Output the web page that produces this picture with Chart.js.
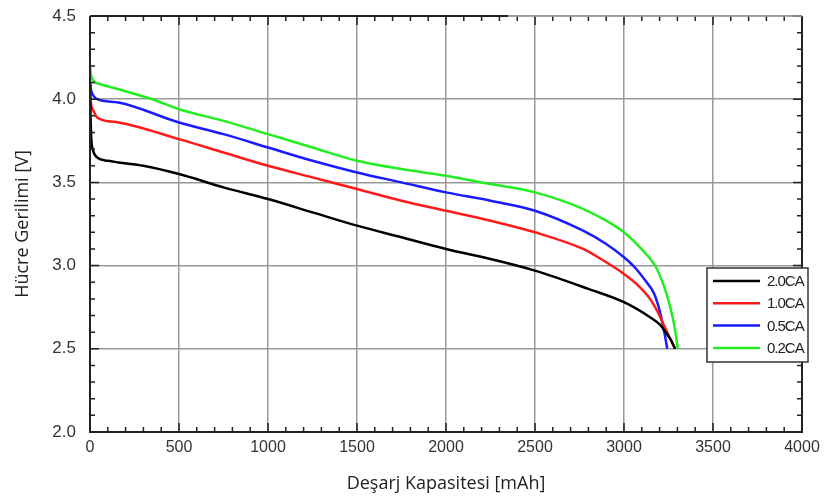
<!DOCTYPE html>
<html>
<head>
<meta charset="utf-8">
<script src="https://cdn.jsdelivr.net/npm/chart.js@4.4.1/dist/chart.umd.min.js"></script>
<style>
    body { margin: 0; background: #fff; }
    canvas { display: block; }
</style>
</head>
<body>
<canvas id="dischargeChart" width="827" height="499"></canvas>
<script>
// capacity [mAh] / voltage [V]
const cap20 = [0, 3, 8, 15, 40, 100, 160, 300, 500, 750, 1000, 1250, 1500, 1750, 2000, 2250, 2500, 2800, 3000, 3146, 3202, 3240, 3265, 3287];
const volt20 = [4.10, 3.90, 3.75, 3.70, 3.65, 3.63, 3.62, 3.60, 3.55, 3.47, 3.40, 3.32, 3.24, 3.17, 3.10, 3.04, 2.97, 2.86, 2.78, 2.69, 2.645, 2.59, 2.55, 2.50];

const cap10 = [0, 3, 10, 20, 40, 160, 500, 750, 1000, 1250, 1500, 1750, 2000, 2250, 2500, 2770, 2900, 3000, 3070, 3146, 3190, 3225, 3260, 3287];
const volt10 = [4.08, 4.00, 3.95, 3.93, 3.89, 3.86, 3.76, 3.68, 3.60, 3.53, 3.46, 3.39, 3.33, 3.27, 3.20, 3.10, 3.02, 2.95, 2.89, 2.80, 2.72, 2.64, 2.56, 2.50];

const cap05 = [0, 5, 20, 40, 160, 500, 750, 1000, 1250, 1500, 1750, 2000, 2250, 2500, 2770, 2900, 3000, 3060, 3120, 3170, 3195, 3215, 3230, 3243];
const volt05 = [4.11, 4.06, 4.02, 4.00, 3.98, 3.86, 3.79, 3.71, 3.63, 3.56, 3.50, 3.44, 3.39, 3.33, 3.21, 3.13, 3.05, 2.99, 2.91, 2.83, 2.75, 2.66, 2.58, 2.50];

const cap02 = [0, 5, 20, 60, 160, 350, 500, 750, 1000, 1250, 1500, 1750, 2000, 2250, 2500, 2750, 2900, 3000, 3080, 3140, 3180, 3220, 3250, 3275, 3292, 3302];
const volt02 = [4.20, 4.15, 4.11, 4.09, 4.06, 4.00, 3.94, 3.87, 3.79, 3.71, 3.63, 3.58, 3.54, 3.49, 3.44, 3.35, 3.27, 3.20, 3.12, 3.05, 2.99, 2.89, 2.79, 2.68, 2.58, 2.50];

const seriesNames = ['2.0CA', '1.0CA', '0.5CA', '0.2CA'];
const seriesColors = ['#000000', '#ff1a1a', '#1a1aff', '#22ee22'];

const toPoints = (xs, ys) => xs.map((x, i) => ({ x: x, y: ys[i] }));

// frame with inward ticks on all four sides
const framePlugin = {
    id: 'frame',
    afterDatasetsDraw(chart) {
        const { ctx, chartArea: a, scales: { x, y } } = chart;
        ctx.save();
        ctx.strokeStyle = '#222';
        ctx.lineWidth = 1.5;
        ctx.beginPath();
        for (let v = 0; v <= 4000; v += 100) {
            const px = x.getPixelForValue(v);
            const len = v % 500 === 0 ? 9 : 5;
            ctx.moveTo(px, a.bottom); ctx.lineTo(px, a.bottom - len);
            ctx.moveTo(px, a.top); ctx.lineTo(px, a.top + len);
        }
        for (let i = 0; i <= 25; i++) {
            const py = y.getPixelForValue(2 + i * 0.1);
            const len = i % 5 === 0 ? 9 : 5;
            ctx.moveTo(a.left, py); ctx.lineTo(a.left + len, py);
            ctx.moveTo(a.right, py); ctx.lineTo(a.right - len, py);
        }
        ctx.stroke();

        ctx.lineWidth = 2;
        ctx.beginPath();
        ctx.moveTo(a.left, a.top); ctx.lineTo(a.left, a.bottom);
        ctx.lineTo(a.right, a.bottom); ctx.lineTo(a.right, a.top);
        ctx.moveTo(a.left, a.top); ctx.lineTo(x.getPixelForValue(2350), a.top);
        ctx.stroke();
        ctx.strokeStyle = '#999';
        ctx.lineWidth = 1.5;
        ctx.beginPath();
        ctx.moveTo(x.getPixelForValue(2350), a.top); ctx.lineTo(a.right, a.top);
        ctx.stroke();
        ctx.restore();
    }
};

// boxed legend in the lower right corner of the plot
const legendPlugin = {
    id: 'boxLegend',
    afterDraw(chart) {
        const { ctx, chartArea: a } = chart;
        const left = a.right - 95, top = 268, w = 101, h = 94;
        ctx.save();
        ctx.fillStyle = '#fff';
        ctx.fillRect(left, top, w, h);
        ctx.strokeStyle = '#333';
        ctx.lineWidth = 1.5;
        ctx.strokeRect(left, top, w, h);
        ctx.font = '15px "Liberation Sans", Arial, sans-serif';
        ctx.letterSpacing = '-1px';
        ctx.textBaseline = 'middle';
        seriesNames.forEach((name, i) => {
            const yy = top + 13 + i * 22.3;
            ctx.strokeStyle = seriesColors[i];
            ctx.lineWidth = 2.5;
            ctx.beginPath();
            ctx.moveTo(left + 6, yy);
            ctx.lineTo(left + 53, yy);
            ctx.stroke();
            ctx.fillStyle = '#222';
            ctx.fillText(name, left + 60, yy + 1);
        });
        ctx.restore();
    }
};

new Chart(document.getElementById('dischargeChart'), {
    type: 'line',
    data: {
        datasets: [
            { label: seriesNames[0], data: toPoints(cap20, volt20) },
            { label: seriesNames[1], data: toPoints(cap10, volt10) },
            { label: seriesNames[2], data: toPoints(cap05, volt05) },
            { label: seriesNames[3], data: toPoints(cap02, volt02) }
        ].map((ds, i) => ({
            ...ds,
            borderColor: seriesColors[i],
            borderWidth: 2.5,
            pointRadius: 0,
            fill: false,
            cubicInterpolationMode: 'monotone'
        }))
    },
    options: {
        responsive: false,
        animation: false,
        layout: { padding: { top: 16, right: 25, left: 0, bottom: 0 } },
        plugins: {
            legend: { display: false },
            tooltip: { enabled: false }
        },
        scales: {
            x: {
                type: 'linear',
                min: 0,
                max: 4000,
                afterFit: scale => {
                    scale.height = 67;
                    scale.paddingLeft = 0;
                    scale.paddingRight = 0;
                },
                ticks: {
                    stepSize: 500,
                    color: '#333',
                    padding: 6,
                    callback: v => String(v),
                    font: { family: '"Liberation Sans", Arial, sans-serif', size: 16 }
                },
                grid: { color: '#999', lineWidth: 1.5, drawTicks: false },
                border: { display: false },
                title: {
                    display: true,
                    text: 'Deşarj Kapasitesi [mAh]',
                    color: '#222',
                    padding: { top: 0, bottom: 4 },
                    font: { family: '"Open Sans", sans-serif', size: 18 }
                }
            },
            y: {
                type: 'linear',
                min: 2,
                max: 4.5,
                afterFit: scale => {
                    scale.width = 90;
                    scale.paddingTop = 0;
                    scale.paddingBottom = 0;
                },
                ticks: {
                    stepSize: 0.5,
                    color: '#333',
                    padding: 14,
                    callback: v => v.toFixed(1),
                    font: { family: '"Liberation Sans", Arial, sans-serif', size: 17 }
                },
                grid: { color: '#999', lineWidth: 1.5, drawTicks: false },
                border: { display: false },
                title: {
                    display: true,
                    text: 'Hücre Gerilimi [V]',
                    color: '#222',
                    padding: { top: 12, bottom: 4 },
                    font: { family: '"Open Sans", sans-serif', size: 18 }
                }
            }
        }
    },
    plugins: [framePlugin, legendPlugin]
});
</script>
</body>
</html>
